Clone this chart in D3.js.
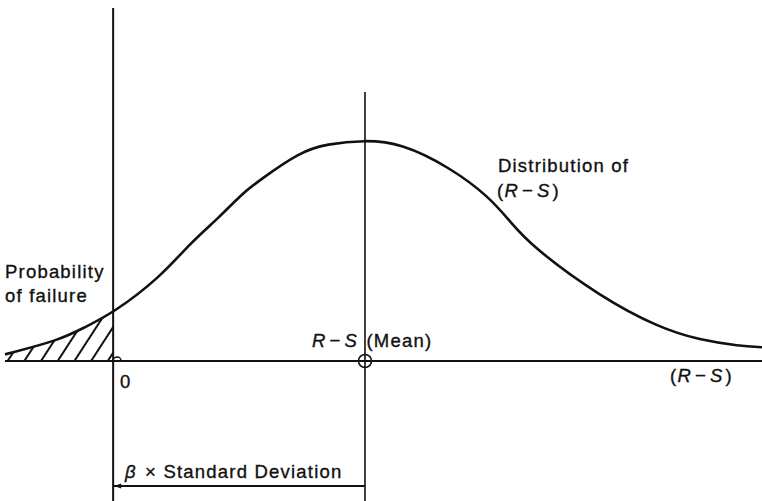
<!DOCTYPE html>
<html>
<head>
<meta charset="utf-8">
<script src="https://cdn.jsdelivr.net/npm/d3@7"></script>
<style>
  html, body { margin: 0; padding: 0; background: #fff; }
  svg text { font-family: "Liberation Sans", Arial, sans-serif; font-size: 18.5px; letter-spacing: 1.2px; fill: #111; stroke: #111; stroke-width: 0.35px; }
</style>
</head>
<body>
<div id="chart"></div>
<script>
// Distribution of (R - S), x in standard deviations from zero, y = relative density
const zValues = [-0.73, -0.36, -0.2, 0, 0.32, 0.52, 0.72, 0.86, 0.99, 1.26, 1.44, 1.7, 1.94, 2.27, 2.54, 2.68, 2.83, 3.29, 3.69, 3.96, 4.23, 4.38];
const density = [0.03, 0.095, 0.15, 0.217, 0.38, 0.534, 0.652, 0.751, 0.819, 0.946, 0.982, 1.0, 0.986, 0.878, 0.742, 0.63, 0.516, 0.29, 0.149, 0.095, 0.068, 0.062];
const meanValue = 1.7;   // beta (in std devs)
const zeroValue = 0;

(function () {
  const W = 762, H = 501;

  const svg = d3.select('#chart').append('svg')
    .attr('width', W).attr('height', H);

  const x = d3.scaleLinear().domain([-0.73, 4.38]).range([5, 762]);
  const y = d3.scaleLinear().domain([0, 1]).range([361, 140]);

  const pts = zValues.map((z, i) => ({ z: z, d: density[i] }));
  const curve = d3.curveBasis;

  // hatch pattern for failure region
  const defs = svg.append('defs');
  const pat = defs.append('pattern')
    .attr('id', 'hatch')
    .attr('patternUnits', 'userSpaceOnUse')
    .attr('width', 14).attr('height', 10)
    .attr('patternTransform', 'rotate(33)');
  pat.append('line')
    .attr('x1', 7).attr('y1', -1).attr('x2', 7).attr('y2', 11)
    .attr('stroke', '#111').attr('stroke-width', 2);

  defs.append('clipPath').attr('id', 'failClip')
    .append('rect')
    .attr('x', 0).attr('y', 0)
    .attr('width', x(zeroValue)).attr('height', H);

  const area = d3.area()
    .x(d => x(d.z)).y0(y(0)).y1(d => y(d.d))
    .curve(curve);

  svg.append('path')
    .datum(pts)
    .attr('d', area)
    .attr('fill', 'url(#hatch)')
    .attr('clip-path', 'url(#failClip)');

  // baseline
  svg.append('line')
    .attr('x1', x(-0.73)).attr('x2', W)
    .attr('y1', y(0)).attr('y2', y(0))
    .attr('stroke', '#111').attr('stroke-width', 2);

  // vertical axis through zero
  svg.append('line')
    .attr('x1', x(zeroValue)).attr('x2', x(zeroValue))
    .attr('y1', 8).attr('y2', H)
    .attr('stroke', '#111').attr('stroke-width', 2);

  // mean line
  svg.append('line')
    .attr('x1', x(meanValue)).attr('x2', x(meanValue))
    .attr('y1', 92).attr('y2', H)
    .attr('stroke', '#111').attr('stroke-width', 1.6);

  // curve
  const line = d3.line()
    .x(d => x(d.z)).y(d => y(d.d))
    .curve(curve);
  svg.append('path')
    .datum(pts)
    .attr('d', line)
    .attr('fill', 'none')
    .attr('stroke', '#111')
    .attr('stroke-width', 2.6);

  // mean marker (circle with cross)
  svg.append('circle')
    .attr('cx', x(meanValue)).attr('cy', y(0)).attr('r', 6.5)
    .attr('fill', 'none').attr('stroke', '#111').attr('stroke-width', 1.6);

  // small origin mark
  svg.append('path')
    .attr('d', `M${x(zeroValue)},${y(0)} a4,4 0 0 1 8,0`)
    .attr('fill', 'none').attr('stroke', '#111').attr('stroke-width', 1.5);

  // beta x std dev bracket
  const by = 486;
  svg.append('line')
    .attr('x1', x(zeroValue)).attr('x2', x(meanValue))
    .attr('y1', by).attr('y2', by)
    .attr('stroke', '#111').attr('stroke-width', 2);
  svg.append('path')
    .attr('d', `M${x(zeroValue) + 1},${by} l7,-2.5 l0,5 z`)
    .attr('fill', '#111');

  // labels
  function rsText(sel) {
    sel.append('tspan').attr('font-style', 'italic').text('R');
    sel.append('tspan').attr('dx', 3).text('\u2212');
    sel.append('tspan').attr('dx', 3).attr('font-style', 'italic').text('S');
  }

  svg.append('text').attr('x', 5).attr('y', 278).text('Probability');
  svg.append('text').attr('x', 5).attr('y', 302).text('of failure');

  svg.append('text').attr('x', 498).attr('y', 172).text('Distribution of');
  const t2 = svg.append('text').attr('x', 497).attr('y', 197);
  t2.append('tspan').text('(');
  rsText(t2);
  t2.append('tspan').attr('dx', 2).text(')');

  const t3 = svg.append('text').attr('x', 312).attr('y', 347);
  rsText(t3);
  t3.append('tspan').attr('dx', 2).text(' (Mean)');

  svg.append('text').attr('x', 120).attr('y', 388).text('0');

  const t4 = svg.append('text').attr('x', 670).attr('y', 382);
  t4.append('tspan').text('(');
  rsText(t4);
  t4.append('tspan').attr('dx', 2).text(')');

  const t5 = svg.append('text').attr('x', 125).attr('y', 478);
  t5.append('tspan').attr('font-style', 'italic').text('\u03B2');
  t5.append('tspan').attr('dx', 2).text(' \u00D7 Standard Deviation');
})();
</script>
</body>
</html>
